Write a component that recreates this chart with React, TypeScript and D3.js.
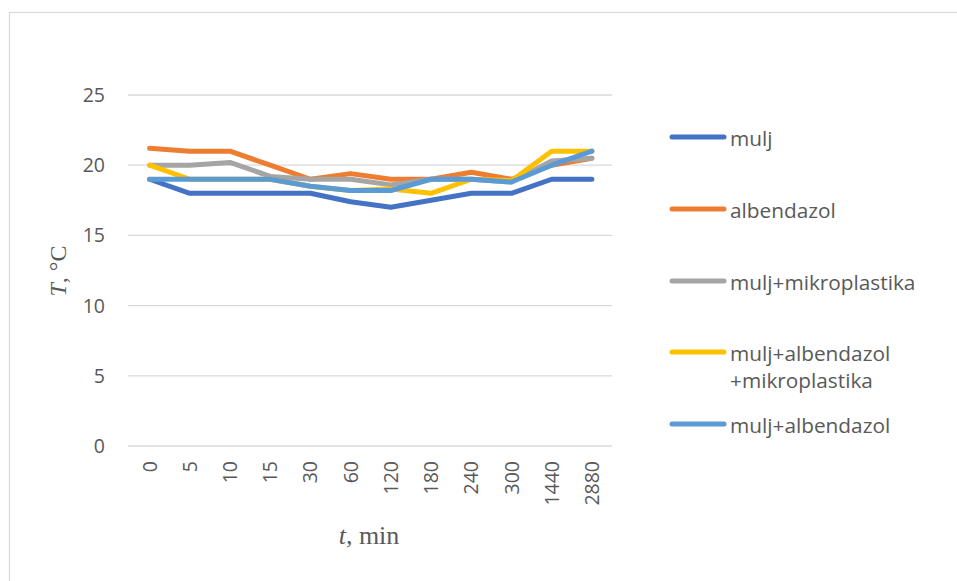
import React from "react";
import * as d3 from "d3";

const categories = ["0", "5", "10", "15", "30", "60", "120", "180", "240", "300", "1440", "2880"];
const seriesNames = ["mulj", "albendazol", "mulj+mikroplastika", "mulj+albendazol\n+mikroplastika", "mulj+albendazol"];
const colors = ["#4472C4", "#ED7D31", "#A5A5A5", "#FFC000", "#5B9BD5"];
const mulj = [19, 18, 18, 18, 18, 17.4, 17, 17.5, 18, 18, 19, 19];
const albendazol = [21.2, 21, 21, 20, 19, 19.4, 19, 19, 19.5, 19, 20, 20.5];
const muljMikro = [20, 20, 20.2, 19.2, 19, 19, 18.6, 19, 19, 18.8, 20.3, 20.5];
const muljAlbMikro = [20, 19, 19, 19, 18.5, 18.2, 18.3, 18, 19, 18.9, 21, 21];
const muljAlb = [19, 19, 19, 19, 18.5, 18.2, 18.2, 19, 19, 18.8, 20, 21];
const yTicks = [0, 5, 10, 15, 20, 25];

const allSeries = [mulj, albendazol, muljMikro, muljAlbMikro, muljAlb];

export default function App() {
  const W = 957, H = 581;
  const x = d3.scaleBand().domain(categories).range([129.5, 612]);
  const y = d3.scaleLinear().domain([0, 25]).range([446, 95]);
  const cx = (c: string) => (x(c) as number) + x.bandwidth() / 2;
  const line = d3.line<number>().x((_, i) => cx(categories[i])).y((d) => y(d));
  const legendY = [137, 209, 281, 352, 424];
  const font = "'Open Sans', 'Noto Sans', sans-serif";
  const serif = "'Liberation Serif', 'Times New Roman', serif";
  return (
    <svg width={W} height={H} style={{ position: "absolute", left: 0, top: 0, background: "#fff" }}>
      <rect x={9.5} y={12.5} width={W} height={H} fill="#fff" stroke="#d9d9d9" strokeWidth={1.2} />
      {yTicks.map((t) => (
        <g key={t}>
          <line x1={128} x2={612} y1={y(t)} y2={y(t)} stroke="#d9d9d9" strokeWidth={1.3} />
          <text x={105} y={y(t)} dy="0.36em" textAnchor="end" fontSize={19.5} fill="#595959" fontFamily={font}>{t}</text>
        </g>
      ))}
      {categories.map((c) => (
        <text key={c} transform={`translate(${cx(c)},${461}) rotate(-90)`} textAnchor="end" dy="0.36em"
          fontSize={19.5} fill="#595959" fontFamily={font}>{c}</text>
      ))}
      {allSeries.map((s, i) => (
        <path key={i} d={line(s) as string} fill="none" stroke={colors[i]} strokeWidth={5} strokeLinejoin="round" strokeLinecap="round" />
      ))}
      {seriesNames.map((n, i) => (
        <g key={n}>
          <line x1={672} x2={724} y1={legendY[i]} y2={legendY[i]} stroke={colors[i]} strokeWidth={5} strokeLinecap="round" />
          {n.split("\n").map((part, j) => (
            <text key={j} x={730} y={legendY[i] + 2 + j * 27} dy="0.36em" fontSize={20.8} fill="#595959" fontFamily={font}>{part}</text>
          ))}
        </g>
      ))}
      <text transform="translate(66,271) rotate(-90)" textAnchor="middle" fontSize={24} fill="#595959"
        fontFamily={serif}>
        <tspan fontStyle="italic">T</tspan>, °C
      </text>
      <text x={369} y={544} textAnchor="middle" fontSize={26} fill="#595959"
        fontFamily={serif}>
        <tspan fontStyle="italic">t</tspan>, min
      </text>
    </svg>
  );
}
